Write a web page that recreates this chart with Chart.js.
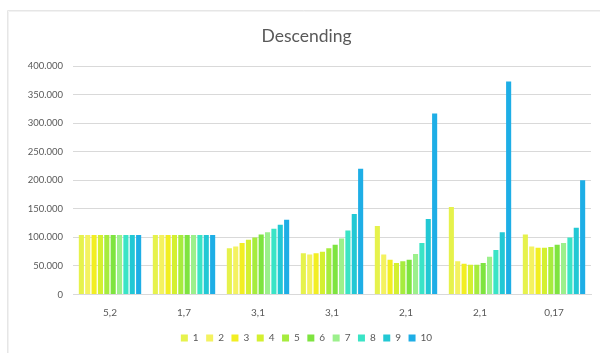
<!DOCTYPE html>
<html>
<head>
<meta charset="utf-8">
<script src="https://cdn.jsdelivr.net/npm/chart.js@4/dist/chart.umd.min.js"></script>
<style>
  html, body { margin: 0; padding: 0; background: #fff; }
  #wrap { position: relative; width: 600px; height: 353px; }
</style>
</head>
<body>
<div id="wrap"><canvas id="c" width="600" height="353"></canvas></div>
<script>
// Category labels along the x axis
const categories = ['5,2', '1,7', '3,1', '3,1', '2,1', '2,1', '0,17'];

// Series names shown in the legend
const seriesNames = ['1', '2', '3', '4', '5', '6', '7', '8', '9', '10'];

// Values per series, one entry per category
const s1  = [104000, 104000,  81000,  72000, 120000, 153000, 105000];
const s2  = [104000, 104000,  84000,  70000,  70000,  58000,  84000];
const s3  = [104000, 104000,  90000,  72000,  61000,  54000,  82000];
const s4  = [104000, 104000,  96000,  75000,  55000,  52000,  82000];
const s5  = [104000, 104000, 100000,  81000,  58000,  52000,  83000];
const s6  = [104000, 104000, 105000,  87000,  61000,  55000,  87000];
const s7  = [104000, 104000, 109000,  98000,  71000,  66000,  90000];
const s8  = [104000, 104000, 115000, 112000,  90000,  78000, 100000];
const s9  = [104000, 104000, 122000, 141000, 132000, 109000, 117000];
const s10 = [104000, 104000, 131000, 220000, 317000, 373000, 200000];
const seriesValues = [s1, s2, s3, s4, s5, s6, s7, s8, s9, s10];

// Y axis range and step
const yMax = 400000;
const yStep = 50000;

const palette = ['#e6f24c', '#f4f260', '#f2ee22', '#d4f030', '#a6ec3e',
                 '#7ee440', '#9cf08c', '#3ae4c6', '#22c8d4', '#1eaee6'];

const fmt = v => String(v).replace(/\B(?=(\d{3})+(?!\d))/g, '.');

// Light frame around the chart
const framePlugin = {
  id: 'frame',
  beforeDraw(chart) {
    const ctx = chart.ctx;
    ctx.save();
    ctx.fillStyle = '#ffffff';
    ctx.fillRect(0, 0, chart.width, chart.height);
    ctx.strokeStyle = '#e6e6e6';
    ctx.lineWidth = 1;
    ctx.beginPath();
    ctx.moveTo(7.5, chart.height);
    ctx.lineTo(7.5, 10.5);
    ctx.lineTo(chart.width, 10.5);
    ctx.stroke();
    ctx.strokeStyle = '#f2f2f2';
    ctx.beginPath();
    ctx.moveTo(8.5, chart.height);
    ctx.lineTo(8.5, 11.5);
    ctx.lineTo(chart.width, 11.5);
    ctx.stroke();
    ctx.restore();
  }
};

new Chart(document.getElementById('c'), {
  type: 'bar',
  data: {
    labels: categories,
    datasets: seriesNames.map((name, i) => ({
      label: name,
      data: seriesValues[i],
      backgroundColor: palette[i],
      borderWidth: 0,
      barPercentage: 0.8,
      categoryPercentage: 0.86
    }))
  },
  options: {
    responsive: false,
    animation: false,
    devicePixelRatio: 1,
    layout: { padding: { left: 22, right: 9, top: 0, bottom: 0 } },
    plugins: {
      title: {
        display: true,
        text: 'Descending',
        color: '#595959',
        font: { family: 'Lato', size: 17.5, weight: 'normal' },
        padding: { top: 26, bottom: 19 }
      },
      legend: {
        position: 'bottom',
        labels: {
          color: '#595959',
          font: { family: 'Lato', size: 10 },
          boxWidth: 7,
          boxHeight: 7,
          padding: 7.5
        }
      },
      tooltip: { enabled: false }
    },
    scales: {
      x: {
        grid: { display: false },
        border: { color: '#d9d9d9' },
        ticks: { color: '#595959', font: { family: 'Lato', size: 10 }, padding: 4 },
        afterFit(scale) { scale.height += 3; }
      },
      y: {
        min: 0,
        max: yMax,
        ticks: {
          stepSize: yStep,
          color: '#595959',
          font: { family: 'Lato', size: 9.5 },
          padding: 10,
          callback: v => fmt(v)
        },
        grid: { color: '#d9d9d9', drawTicks: false },
        border: { display: false },
        afterFit(scale) { scale.width = 51; }
      }
    }
  },
  plugins: [framePlugin]
});
</script>
</body>
</html>
